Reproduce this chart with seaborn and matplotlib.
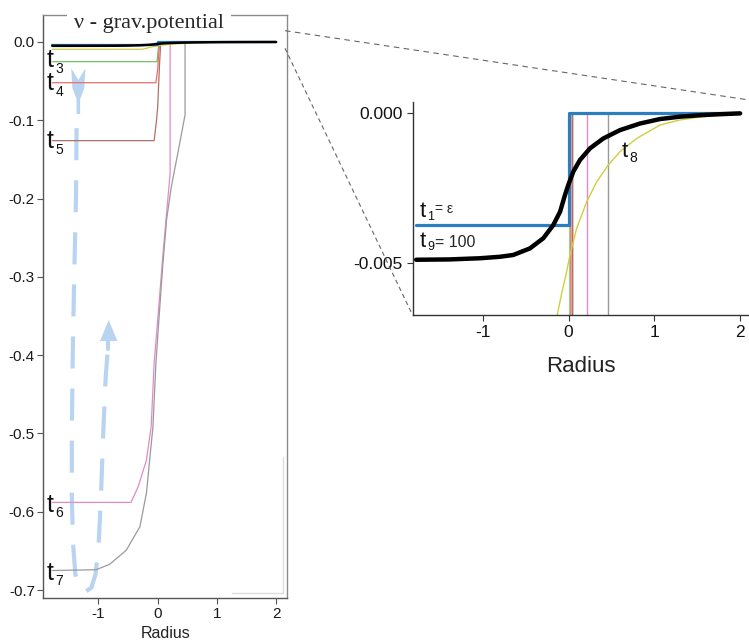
import seaborn as sns
import matplotlib.pyplot as plt
from matplotlib.lines import Line2D

# gravitational potential nu(r) at successive times
r_t1 = [-1.78, 0.0, 0.0, 2.0]
nu_t1 = [-0.00374, -0.00374, 0.0, 0.0]

r_t3 = [-1.78, -0.01, 0.005, 0.015, 0.015, 2.0]
nu_t3 = [-0.0251, -0.0251, -0.012, -0.007, 0.0, 0.0]

r_t4 = [-1.78, -0.03, 0.0, 0.02, 0.027, 0.027, 2.0]
nu_t4 = [-0.052, -0.052, -0.035, -0.012, -0.007, 0.0, 0.0]

r_t5 = [-1.78, -0.06, -0.02, 0.0, 0.03, 0.047, 0.047, 2.0]
nu_t5 = [-0.126, -0.126, -0.1, -0.083, -0.03, -0.007, 0.0, 0.0]

r_t6 = [-1.78, -0.45, -0.33, -0.19, -0.11, -0.06, 0.0, 0.09, 0.16, 0.21, 0.21, 2.0]
nu_t6 = [-0.588, -0.588, -0.568, -0.534, -0.491, -0.41, -0.355, -0.27, -0.21, -0.168, 0.0, 0.0]

r_t7 = [-1.78, -1.04, -0.81, -0.53, -0.3, -0.19, -0.08, -0.03, 0.02, 0.08, 0.15,
        0.23, 0.34, 0.462, 0.462, 2.0]
nu_t7 = [-0.675, -0.674, -0.667, -0.649, -0.619, -0.576, -0.491, -0.41, -0.355, -0.291,
         -0.227, -0.185, -0.142, -0.093, 0.0, 0.0]

r_t8 = [-1.78, -0.28, -0.25, -0.2, -0.16, -0.13, -0.08, -0.031, 0.015, 0.093, 0.21,
        0.327, 0.462, 0.599, 0.793, 1.065, 1.3, 1.54, 1.8, 2.0]
nu_t8 = [-0.0093, -0.0093, -0.0091, -0.0083, -0.0074, -0.0067, -0.006, -0.0054, -0.00474,
         -0.00385, -0.00296, -0.00229, -0.00173, -0.00128, -0.00084, -0.00039, -0.00022,
         -0.00012, -0.00004, 0.0]

r_t9 = [-1.78, -1.4, -1.035, -0.8, -0.646, -0.452, -0.296, -0.18, -0.1, -0.043, -0.005,
        0.054, 0.132, 0.249, 0.404, 0.599, 0.832, 1.065, 1.3, 1.54, 1.75, 2.0]
nu_t9 = [-0.0049, -0.00489, -0.00485, -0.0048, -0.00474, -0.00452, -0.00418, -0.00374,
         -0.00329, -0.00273, -0.0024, -0.00195, -0.00156, -0.00117, -0.00084, -0.00056,
         -0.00034, -0.00019, -0.00011, -0.00006, -0.00003, 0.0]

colors = {"t3": "#74c365", "t4": "#f26b6b", "t5": "#b07068", "t6": "#e58ac9",
          "t7": "#9a9a9a", "t8": "#cfcf40", "t1": "#2a7fc0", "t9": "#000000"}

# dashed loop drawn by hand on the left panel
loop_r = [-1.37, -1.38, -1.41, -1.435, -1.45, -1.45, -1.43, -1.39, -1.33, -1.22, -1.12,
          -1.05, -1.0, -0.96, -0.92, -0.88, -0.835]
loop_nu = [-0.11, -0.2, -0.3, -0.4, -0.5, -0.58, -0.64, -0.68, -0.697, -0.702, -0.697,
           -0.68, -0.645, -0.585, -0.5, -0.43, -0.385]

left_yticks = [0.0, -0.1, -0.2, -0.3, -0.4, -0.5, -0.6, -0.7]
left_ylabels = ["0.0", "-0.1", "-0.2", "-0.3", "-0.4", "-0.5", "-0.6", "-0.7"]
inset_yticks = [0.0, -0.005]
inset_ylabels = ["0.000", "-0.005"]
xticks = [-1, 0, 1, 2]
xlabels = ["-1", "0", "1", "2"]

sns.set_style("white")
plt.rcParams["font.family"] = ["Liberation Sans", "DejaVu Sans"]

fig = plt.figure(figsize=(7.49, 6.43), dpi=100)
ax = fig.add_axes([0.0578, 0.0695, 0.3258, 0.9072])
ax2 = fig.add_axes([0.551, 0.5101, 0.449, 0.3317])

thin = [("t3", r_t3, nu_t3), ("t4", r_t4, nu_t4), ("t5", r_t5, nu_t5),
        ("t6", r_t6, nu_t6), ("t7", r_t7, nu_t7), ("t8", r_t8, nu_t8)]

for a, lw_thin, lw_blue, lw_black in [(ax, 0.9, 1.6, 1.8), (ax2, 1.0, 2.3, 3.2)]:
    for key, r, nu in thin:
        sns.lineplot(x=r, y=nu, ax=a, color=colors[key], lw=lw_thin, sort=False, estimator=None)
    sns.lineplot(x=r_t1, y=nu_t1, ax=a, color=colors["t1"], lw=lw_blue, sort=False, estimator=None)
    sns.lineplot(x=r_t9, y=nu_t9, ax=a, color=colors["t9"], lw=lw_black, sort=False, estimator=None)


def t_label(a, x, y, digit, size, sub_size, dx, dy):
    a.text(x, y, "t", fontsize=size, va="baseline", ha="left", color="#111111", zorder=6)
    a.annotate(digit, xy=(x, y), xytext=(dx, dy), textcoords="offset points",
               fontsize=sub_size, va="baseline", ha="left", color="#111111", zorder=6)


# left panel
ax.set_xlim(-1.932, 2.189)
ax.set_ylim(-0.7105, 0.0345)
ax.set_xticks(xticks, xlabels)
ax.set_yticks(left_yticks, left_ylabels)
ax.tick_params(direction="out", length=4, width=0.8, color="#555555", labelsize=11,
               labelcolor="#1a1a1a", pad=2, bottom=True, left=True)
ax.set_xlabel("Radius", fontsize=11.5, labelpad=4, color="#222222")
for side in ["left", "bottom"]:
    ax.spines[side].set_color("#555555")
for side in ["top", "right"]:
    ax.spines[side].set_color("#8a8a8a")
for s in ax.spines.values():
    s.set_linewidth(1.0)

ax.text(0.433, 0.985, "ν - grav.potential", transform=ax.transAxes, ha="center",
        va="center", fontsize=16, family=["Liberation Serif", "DejaVu Serif"],
        bbox=dict(boxstyle="square,pad=0.3", fc="white", ec="none"), zorder=10, clip_on=False)

# hand-drawn loop with arrowheads
ax.plot(loop_r, loop_nu, color="#b9d4f1", lw=3, linestyle=(0, (7.7, 4.8)), zorder=1)
ax.fill([-1.46, -1.34, -1.22, -1.24, -1.31, -1.31, -1.37, -1.37, -1.44],
        [-0.0336, -0.0485, -0.0336, -0.059, -0.073, -0.092, -0.092, -0.073, -0.059],
        color="#b9d4f1", lw=0, zorder=1)
ax.fill([-0.975, -0.828, -0.68], [-0.382, -0.355, -0.382], color="#b9d4f1", lw=0, zorder=1)
ax.plot([-0.835, -0.835], [-0.382, -0.392], color="#b9d4f1", lw=3, zorder=1)

# faint bracket near the bottom right corner
ax.plot([1.25, 2.11, 2.11], [-0.704, -0.704, -0.53], color="#dcdcdc", lw=1.0)

for lab, yb in [("3", -0.0319), ("4", -0.0613), ("5", -0.1358), ("6", -0.600), ("7", -0.687)]:
    t_label(ax, -1.875, yb, lab, 18, 10, 6.5, -4)

# inset
ax2.set_xlim(-1.82, 2.104)
ax2.set_ylim(-0.00675, 0.00039)
ax2.set_xticks(xticks, xlabels)
ax2.set_yticks(inset_yticks, inset_ylabels)
ax2.tick_params(direction="out", length=4, width=0.8, color="#333333", labelsize=12.5,
                labelcolor="#111111", pad=3, bottom=True, left=True)
ax2.set_xlabel("Radius", fontsize=16, labelpad=12, color="#222222")
ax2.spines["top"].set_visible(False)
ax2.spines["right"].set_visible(False)
for side in ["left", "bottom"]:
    ax2.spines[side].set_color("#333333")
    ax2.spines[side].set_linewidth(1.0)

t_label(ax2, -1.735, -0.00347, "1", 16, 9, 5.2, -2.5)
ax2.text(-1.555, -0.00334, "= ε", fontsize=10, va="baseline", ha="left")
t_label(ax2, -1.735, -0.00447, "9", 16, 9, 5.2, -2.5)
ax2.text(-1.555, -0.00447, "= 100", fontsize=11.5, va="baseline", ha="left")
t_label(ax2, 0.618, -0.00145, "8", 16, 10, 5.5, -3.5)

# zoom connector lines
fig.add_artist(Line2D([0.3805, 1.0], [0.9523, 0.8445], transform=fig.transFigure,
                      color="#666666", lw=0.8, ls=(0, (5, 4))))
fig.add_artist(Line2D([0.3805, 0.5497], [0.9249, 0.5127], transform=fig.transFigure,
                      color="#666666", lw=0.8, ls=(0, (4, 3))))

fig.savefig("out.png", dpi=100)
